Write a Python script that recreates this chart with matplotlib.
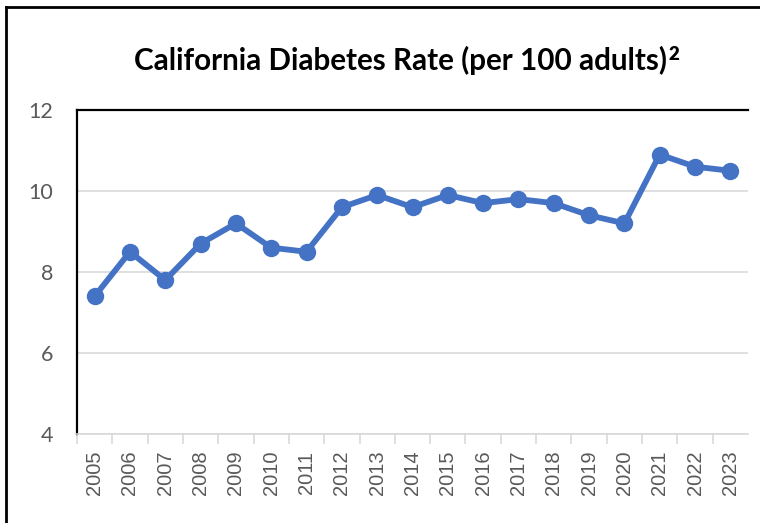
import matplotlib
matplotlib.use('agg')
import matplotlib.pyplot as plt
from matplotlib.lines import Line2D

years = ['2005', '2006', '2007', '2008', '2009', '2010', '2011', '2012', '2013', '2014',
         '2015', '2016', '2017', '2018', '2019', '2020', '2021', '2022', '2023']
rates = [7.4, 8.5, 7.8, 8.7, 9.2, 8.6, 8.5, 9.6, 9.9, 9.6,
         9.9, 9.7, 9.8, 9.7, 9.4, 9.2, 10.9, 10.6, 10.5]
yticks = [4, 6, 8, 10, 12]

fig = plt.figure(figsize=(7.6, 5.23), dpi=100)
ax = fig.add_axes([77/760, 1 - 434/523, (748 - 77)/760, (434 - 110)/523])

x = list(range(len(years)))
ax.plot(x, rates, color='#4472C4', linewidth=4.2, marker='o', markersize=11.5,
        solid_capstyle='round', zorder=3)

ax.set_xlim(-0.5, len(years) - 0.5)
ax.set_ylim(4, 12)
ax.set_yticks(yticks)
ax.set_yticklabels([str(v) for v in yticks], family='Lato', fontsize=15.5, color='#595959')
ax.grid(axis='y', color='#D9D9D9', linewidth=1.2, zorder=0)

ax.set_xticks(x)
ax.set_xticklabels(years, rotation=90, family='Liberation Sans', fontsize=14.5, color='#595959')
ax.set_xticks([i - 0.5 for i in range(len(years))], minor=True)
ax.tick_params(axis='x', which='major', length=0, pad=12)
ax.tick_params(axis='x', which='minor', length=7, color='#D9D9D9', width=1.2)
ax.tick_params(axis='y', length=0, pad=17)

ax.spines['top'].set_color('black')
ax.spines['top'].set_linewidth(1.6)
ax.spines['left'].set_color('black')
ax.spines['left'].set_linewidth(1.6)
ax.spines['right'].set_visible(False)
ax.spines['bottom'].set_color('#D9D9D9')
ax.spines['bottom'].set_linewidth(1.2)

title = fig.text(401/760, 1 - 60/523, 'California Diabetes Rate (per 100 adults)',
                 ha='center', va='center', fontsize=21.3, fontweight='bold', family='Lato')
# superscript footnote marker right after the title
fig.canvas.draw()
bb = title.get_window_extent().transformed(fig.transFigure.inverted())
fig.text(bb.x1 + 1/760, bb.y1 - 1/523, '2', ha='left', va='top', fontsize=13.5,
         fontweight='heavy', family='Lato')

# outer chart border (left and top edges visible)
fig.add_artist(Line2D([6/760, 6/760], [0, 1 - 7/523], color='black', linewidth=2,
                      transform=fig.transFigure))
fig.add_artist(Line2D([6/760, 1], [1 - 7/523, 1 - 7/523], color='black', linewidth=2,
                      transform=fig.transFigure))

plt.savefig('out.png', format='png')
plt.close()
